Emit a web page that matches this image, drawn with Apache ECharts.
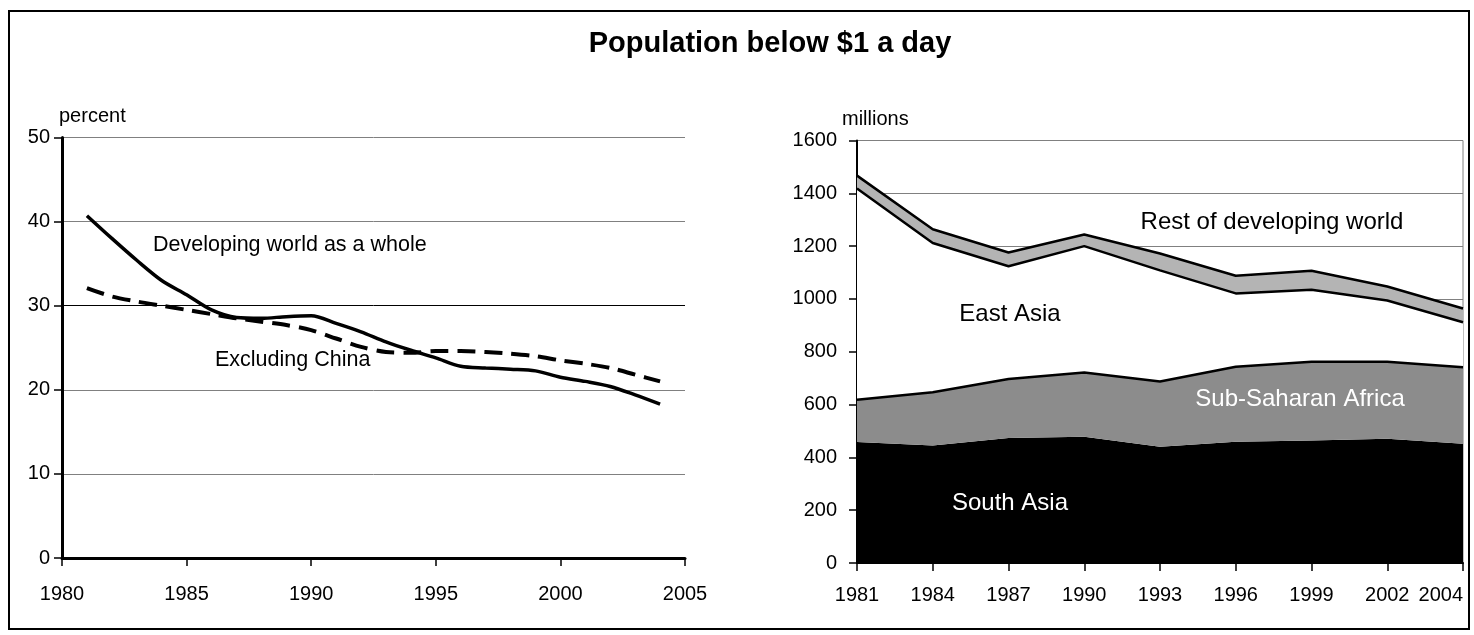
<!DOCTYPE html>
<html>
<head>
<meta charset="utf-8">
<script src="https://cdn.jsdelivr.net/npm/echarts@6/dist/echarts.min.js"></script>
<style>
html,body{margin:0;padding:0;background:#fff;}
#c{width:1474px;height:635px;}
</style>
</head>
<body>
<div id="c"></div>
<script>
// ---- Left chart data (percent of population below $1 a day) ----
const leftYears = [1981,1982,1983,1984,1985,1986,1987,1988,1989,1990,1991,1992,1993,1994,1995,1996,1997,1998,1999,2000,2001,2002,2003,2004];
const developingWorld = [40.7,38.0,35.4,33.0,31.3,29.5,28.6,28.5,28.7,28.8,27.9,26.9,25.7,24.7,23.8,22.8,22.6,22.45,22.25,21.5,21.0,20.4,19.4,18.3];
const excludingChina  = [32.1,31.1,30.5,30.0,29.5,29.0,28.5,28.1,27.7,27.1,26.1,25.1,24.5,24.4,24.6,24.6,24.5,24.3,24.0,23.5,23.1,22.6,21.8,21.0];

// ---- Right chart data (millions) ----
const rightYears = ['1981','1984','1987','1990','1993','1996','1999','2002','2004'];
const southAsia   = [458,445,473,478,440,459,464,471,452];
const subSaharan  = [160,202,224,243,247,284,298,291,289];
const eastAsia    = [800,565,427,479,421,278,273,232,171];
const restOfWorld = [49,52,52,44,64,67,72,53,52];

const FONT = 'Liberation Sans, Arial, sans-serif';

const chart = echarts.init(document.getElementById('c'), null, {renderer:'canvas'});

const axisTextStyle = {color:'#000', fontSize:20, fontFamily:FONT};
const plain = v => String(v);

chart.setOption({
  animation:false,
  backgroundColor:'#fff',
  grid:[
    {left:62, top:137.5, width:623, height:420.5, outerBoundsMode:'none', containLabel:false},
    {left:857, top:140.5, width:606, height:422.5, outerBoundsMode:'none', containLabel:false,
     show:true, borderColor:'#808080', borderWidth:1, backgroundColor:'transparent'}
  ],
  xAxis:[
    {gridIndex:0, type:'value', min:1980, max:2005, interval:5,
     axisLine:{show:true, onZero:false, lineStyle:{color:'#000', width:3}},
     axisTick:{show:true, inside:false, length:8, lineStyle:{color:'#000', width:1.5}},
     axisLabel:{margin:26, formatter:plain, ...axisTextStyle},
     splitLine:{show:false}},
    {gridIndex:1, type:'category', data:rightYears, boundaryGap:false,
     axisLine:{show:true, onZero:false, lineStyle:{color:'#000', width:2}},
     axisTick:{show:true, inside:false, length:8, alignWithLabel:true, lineStyle:{color:'#000', width:1.5}},
     axisLabel:{margin:22, interval:0, alignMaxLabel:'right', ...axisTextStyle},
     splitLine:{show:false}}
  ],
  yAxis:[
    {gridIndex:0, type:'value', min:0, max:50, interval:10,
     axisLine:{show:true, lineStyle:{color:'#000', width:3}},
     axisTick:{show:true, inside:false, length:8, lineStyle:{color:'#000', width:1.5}},
     axisLabel:{margin:12, formatter:plain, ...axisTextStyle},
     splitLine:{show:true, lineStyle:{color:['#808080','#808080','#808080','#000000','#808080','#808080'], width:1}}},
    {gridIndex:1, type:'value', min:0, max:1600, interval:200,
     axisLine:{show:true, lineStyle:{color:'#000', width:2}},
     axisTick:{show:true, inside:false, length:8, lineStyle:{color:'#000', width:1.5}},
     axisLabel:{margin:20, formatter:plain, ...axisTextStyle},
     splitLine:{show:true, lineStyle:{color:'#808080', width:1}}}
  ],
  series:[
    {name:'Developing world as a whole', type:'line', xAxisIndex:0, yAxisIndex:0,
     data:leftYears.map((y,i)=>[y,developingWorld[i]]), smooth:0.3, showSymbol:false,
     lineStyle:{color:'#000', width:3.5}, z:5},
    {name:'Excluding China', type:'line', xAxisIndex:0, yAxisIndex:0,
     data:leftYears.map((y,i)=>[y,excludingChina[i]]), smooth:0.3, showSymbol:false,
     lineStyle:{color:'#000', width:4, type:[18,9]}, z:4},
    {name:'South Asia', type:'line', xAxisIndex:1, yAxisIndex:1, stack:'pov',
     data:southAsia, showSymbol:false,
     lineStyle:{width:0, color:'#000'}, areaStyle:{color:'#000', opacity:1}},
    {name:'Sub-Saharan Africa', type:'line', xAxisIndex:1, yAxisIndex:1, stack:'pov',
     data:subSaharan, showSymbol:false,
     lineStyle:{width:2.5, color:'#000'}, areaStyle:{color:'#8c8c8c', opacity:1}},
    {name:'East Asia', type:'line', xAxisIndex:1, yAxisIndex:1, stack:'pov',
     data:eastAsia, showSymbol:false,
     lineStyle:{width:2.5, color:'#000'}, areaStyle:{color:'#ffffff', opacity:1}},
    {name:'Rest of developing world', type:'line', xAxisIndex:1, yAxisIndex:1, stack:'pov',
     data:restOfWorld, showSymbol:false,
     lineStyle:{width:2.5, color:'#000'}, areaStyle:{color:'#b4b4b4', opacity:1}}
  ],
  graphic:[
    {type:'rect', shape:{x:9, y:11, width:1460, height:618}, style:{fill:'none', stroke:'#000', lineWidth:2}, z:100},
    {type:'text', x:770, y:44, style:{text:'Population below $1 a day', font:'bold 29px '+FONT, fill:'#000', align:'center', verticalAlign:'middle'}, z:100},
    {type:'text', x:59, y:116, style:{text:'percent', font:'20px '+FONT, fill:'#000', align:'left', verticalAlign:'middle'}, z:100},
    {type:'text', x:842, y:119, style:{text:'millions', font:'20px '+FONT, fill:'#000', align:'left', verticalAlign:'middle'}, z:100},
    {type:'text', x:153, y:245, style:{text:'Developing world as a whole', font:'21.5px '+FONT, fill:'#000', align:'left', verticalAlign:'middle'}, z:100},
    {type:'text', x:215, y:360, style:{text:'Excluding China', font:'21.5px '+FONT, fill:'#000', align:'left', verticalAlign:'middle'}, z:100},
    {type:'text', x:1272, y:222, style:{text:'Rest of developing world', font:'24px '+FONT, fill:'#000', align:'center', verticalAlign:'middle'}, z:100},
    {type:'text', x:1010, y:314, style:{text:'East Asia', font:'24px '+FONT, fill:'#000', align:'center', verticalAlign:'middle'}, z:100},
    {type:'text', x:1300, y:399, style:{text:'Sub-Saharan Africa', font:'24px '+FONT, fill:'#fff', align:'center', verticalAlign:'middle'}, z:100},
    {type:'text', x:1010, y:503, style:{text:'South Asia', font:'24px '+FONT, fill:'#fff', align:'center', verticalAlign:'middle'}, z:100}
  ]
});
</script>
</body>
</html>
